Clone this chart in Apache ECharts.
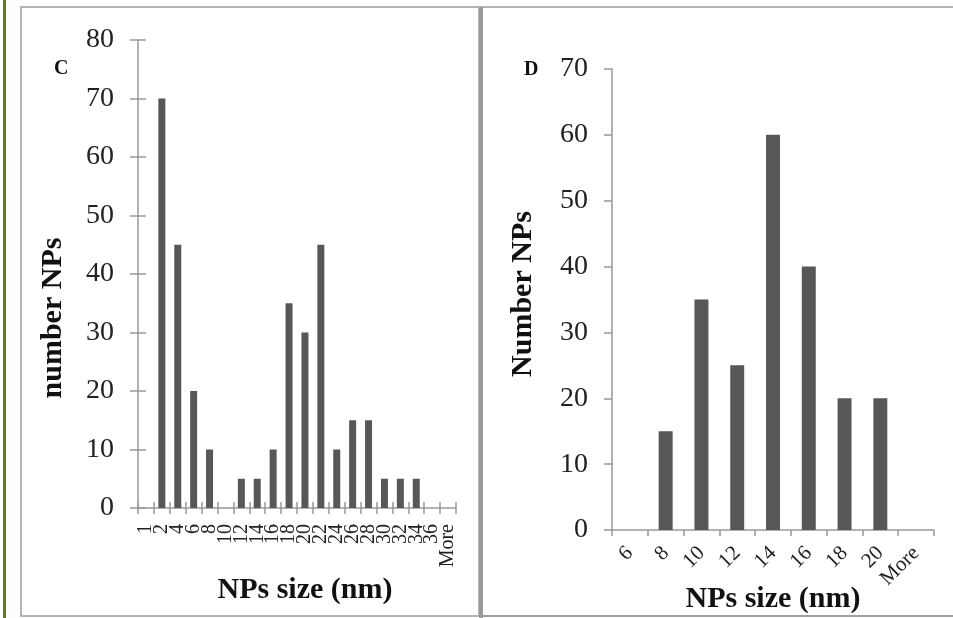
<!DOCTYPE html>
<html>
<head>
<meta charset="utf-8">
<script src="https://cdn.jsdelivr.net/npm/echarts@6/dist/echarts.min.js"></script>
<style>
  html, body { margin: 0; padding: 0; background: #fff; }
  #chart { width: 953px; height: 618px; }
</style>
</head>
<body>
<div id="chart"></div>
<script>
// panel C
const sizesC = ['1', '2', '4', '6', '8', '10', '12', '14', '16', '18', '20', '22', '24', '26', '28', '30', '32', '34', '36', 'More'];
const countsC = [0, 70, 45, 20, 10, 0, 5, 5, 10, 35, 30, 45, 10, 15, 15, 5, 5, 5, 0, 0];

// panel D
const sizesD = ['6', '8', '10', '12', '14', '16', '18', '20', 'More'];
const countsD = [0, 15, 35, 25, 60, 40, 20, 20, 0];

const serif = '"Liberation Serif", "DejaVu Serif", serif';
const axisGray = '#999';
const barGray = '#575757';

const chart = echarts.init(document.getElementById('chart'));

function tick(inside) {
  return { show: true, inside: inside, interval: 0, length: 6, lineStyle: { color: axisGray, width: 1.5 } };
}

function catAxis(grid, data, opts) {
  return Object.assign({
    type: 'category',
    gridIndex: grid,
    position: 'bottom',
    data: data,
    axisLine: { lineStyle: { color: axisGray, width: 1.5 } },
    axisTick: tick(false),
    splitLine: { show: false },
    nameMoveOverlap: false
  }, opts);
}

chart.setOption({
  animation: false,
  grid: [
    { left: 138, top: 40, width: 318, height: 468, outerBoundsMode: 'none', containLabel: false },
    { left: 612, top: 69, width: 322, height: 461, outerBoundsMode: 'none', containLabel: false }
  ],
  xAxis: [
    catAxis(0, sizesC, {
      axisLabel: { rotate: 90, fontSize: 20, fontFamily: serif, color: '#222', margin: 16, interval: 0 },
      name: 'NPs size (nm)',
      nameLocation: 'middle',
      nameGap: 67,
      nameTextStyle: { fontSize: 30, fontWeight: 'bold', fontFamily: serif, color: '#111', padding: [0, 0, 0, 16] }
    }),
    // inside half of the crossing ticks on panel C
    catAxis(0, sizesC, {
      axisLine: { show: false },
      axisTick: tick(true),
      axisLabel: { show: false }
    }),
    catAxis(1, sizesD, {
      axisLabel: { rotate: 45, fontSize: 21, fontFamily: serif, color: '#222', margin: 20, interval: 0 },
      name: 'NPs size (nm)',
      nameLocation: 'middle',
      nameGap: 54,
      nameTextStyle: { fontSize: 30, fontWeight: 'bold', fontFamily: serif, color: '#111' }
    })
  ],
  yAxis: [
    {
      type: 'value', gridIndex: 0, position: 'left', min: 0, max: 80, interval: 10,
      axisLine: { show: true, lineStyle: { color: axisGray, width: 1.5 } },
      axisTick: { show: true, length: 8, lineStyle: { color: axisGray, width: 1.5 } },
      axisLabel: { fontSize: 28, fontFamily: serif, color: '#222', margin: 24 },
      splitLine: { show: false },
      nameMoveOverlap: false,
      name: 'number NPs',
      nameLocation: 'middle',
      nameGap: 70,
      nameTextStyle: { fontSize: 30, fontWeight: 'bold', fontFamily: serif, color: '#111', padding: [0, 88, 0, 0] }
    },
    {
      type: 'value', gridIndex: 0, position: 'left', min: 0, max: 80, interval: 10,
      axisLine: { show: false },
      axisTick: { show: true, inside: true, length: 8, lineStyle: { color: axisGray, width: 1.5 } },
      axisLabel: { show: false },
      splitLine: { show: false }
    },
    {
      type: 'value', gridIndex: 1, position: 'left', min: 0, max: 70, interval: 10,
      axisLine: { show: true, lineStyle: { color: axisGray, width: 1.5 } },
      axisTick: { show: true, length: 8, lineStyle: { color: axisGray, width: 1.5 } },
      axisLabel: { fontSize: 28, fontFamily: serif, color: '#222', margin: 24 },
      splitLine: { show: false },
      nameMoveOverlap: false,
      name: 'Number NPs',
      nameLocation: 'middle',
      nameGap: 74,
      nameTextStyle: { fontSize: 30, fontWeight: 'bold', fontFamily: serif, color: '#111', padding: [0, 0, 0, 11] }
    }
  ],
  series: [
    {
      name: 'C', type: 'bar', xAxisIndex: 0, yAxisIndex: 0,
      data: countsC, barCategoryGap: '56%',
      itemStyle: { color: barGray }
    },
    {
      name: 'D', type: 'bar', xAxisIndex: 2, yAxisIndex: 2,
      data: countsD, barCategoryGap: '61%',
      itemStyle: { color: barGray }
    }
  ],
  graphic: [
    // olive margin rule on the far left
    { type: 'rect', shape: { x: 3, y: 0, width: 3, height: 618 }, style: { fill: '#5b7d1c' }, silent: true },
    // panel frames
    { type: 'rect', shape: { x: 21, y: 7, width: 458, height: 609 }, style: { fill: null, stroke: '#b4b4b4', lineWidth: 2 }, silent: true },
    { type: 'line', shape: { x1: 479, y1: 7, x2: 953, y2: 7 }, style: { stroke: '#b4b4b4', lineWidth: 2 }, silent: true },
    { type: 'line', shape: { x1: 479, y1: 616, x2: 953, y2: 616 }, style: { stroke: '#a0a0a0', lineWidth: 2 }, silent: true },
    { type: 'rect', shape: { x: 479, y: 7, width: 4, height: 611 }, style: { fill: '#9a9a9a' }, silent: true },
    // panel letters
    { type: 'text', left: 54, top: 59, style: { text: 'C', font: 'bold 20px ' + serif, fill: '#111' } },
    { type: 'text', left: 524, top: 60, style: { text: 'D', font: 'bold 20px ' + serif, fill: '#111' } }
  ]
});
</script>
</body>
</html>
